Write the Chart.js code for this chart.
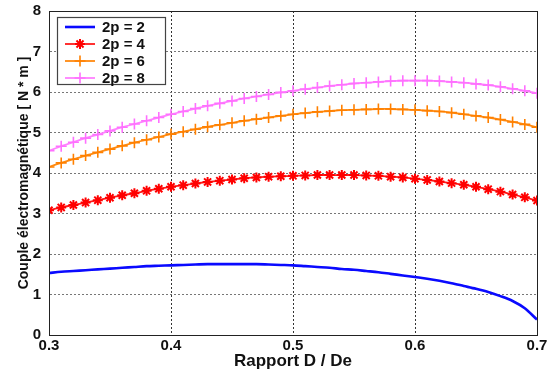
<!DOCTYPE html>
<html>
<head>
<meta charset="utf-8">
<script src="https://cdn.jsdelivr.net/npm/chart.js@4"></script>
<style>
  html, body { margin: 0; padding: 0; background: #fff; }
  #wrap { width: 553px; height: 372px; }
</style>
</head>
<body>
<div id="wrap"><canvas id="torqueChart" width="553" height="372"></canvas></div>
<script>
// D/De ratio, step 0.01
const ratios = [
  0.30, 0.31, 0.32, 0.33, 0.34, 0.35, 0.36, 0.37, 0.38, 0.39,
  0.40, 0.41, 0.42, 0.43, 0.44, 0.45, 0.46, 0.47, 0.48, 0.49,
  0.50, 0.51, 0.52, 0.53, 0.54, 0.55, 0.56, 0.57, 0.58, 0.59,
  0.60, 0.61, 0.62, 0.63, 0.64, 0.65, 0.66, 0.67, 0.68, 0.69, 0.70
];

const torque2p2 = [
  1.53, 1.56, 1.58, 1.60, 1.62, 1.64, 1.66, 1.68, 1.70, 1.71,
  1.72, 1.73, 1.74, 1.75, 1.75, 1.75, 1.75, 1.75, 1.74, 1.73,
  1.72, 1.70, 1.68, 1.66, 1.63, 1.61, 1.58, 1.55, 1.51, 1.47,
  1.43, 1.39, 1.34, 1.28, 1.21, 1.14, 1.06, 0.96, 0.84, 0.66, 0.38
];
const torque2p4 = [
  3.08, 3.15, 3.21, 3.27, 3.33, 3.39, 3.45, 3.50, 3.56, 3.61,
  3.66, 3.70, 3.74, 3.78, 3.81, 3.84, 3.87, 3.89, 3.91, 3.92,
  3.93, 3.94, 3.95, 3.95, 3.95, 3.95, 3.94, 3.93, 3.91, 3.89,
  3.86, 3.83, 3.79, 3.75, 3.71, 3.66, 3.60, 3.54, 3.47, 3.40, 3.32
];
const torque2p6 = [
  4.15, 4.25, 4.34, 4.43, 4.51, 4.59, 4.67, 4.75, 4.82, 4.89,
  4.96, 5.02, 5.08, 5.14, 5.19, 5.24, 5.29, 5.33, 5.37, 5.41,
  5.45, 5.48, 5.51, 5.53, 5.55, 5.56, 5.57, 5.58, 5.58, 5.57,
  5.56, 5.54, 5.52, 5.49, 5.45, 5.41, 5.37, 5.32, 5.26, 5.20, 5.13
];
const torque2p8 = [
  4.55, 4.66, 4.76, 4.86, 4.95, 5.04, 5.13, 5.21, 5.29, 5.37,
  5.45, 5.52, 5.59, 5.66, 5.72, 5.78, 5.84, 5.89, 5.94, 5.99,
  6.03, 6.07, 6.11, 6.15, 6.18, 6.21, 6.23, 6.25, 6.27, 6.28,
  6.28, 6.28, 6.27, 6.25, 6.23, 6.20, 6.17, 6.13, 6.08, 6.03, 5.97
];

const seriesLabels = ['2p = 2', '2p = 4', '2p = 6', '2p = 8'];

const xTicks = [0.3, 0.4, 0.5, 0.6, 0.7];
const yTicks = [0, 1, 2, 3, 4, 5, 6, 7, 8];

const FONT = 'Liberation Sans, Arial, sans-serif';

function toXY(ys) {
  return ratios.map((x, i) => ({ x: x, y: ys[i] }));
}

// box around the plot + legend inside top-left corner
const framePlugin = {
  id: 'frame',
  afterDraw(chart) {
    const ctx = chart.ctx;
    const a = chart.chartArea;
    ctx.save();
    ctx.strokeStyle = '#222';
    ctx.lineWidth = 1;
    ctx.strokeRect(a.left + 0.5, a.top + 0.5, a.right - a.left, a.bottom - a.top);

    // legend
    const bx = a.left + 8, by = a.top + 6, bw = 108, bh = 67;
    ctx.fillStyle = '#fff';
    ctx.fillRect(bx, by, bw, bh);
    ctx.strokeStyle = '#444';
    ctx.lineWidth = 1.2;
    ctx.strokeRect(bx + 0.5, by + 0.5, bw, bh);
    chart.data.datasets.forEach((ds, i) => {
      const cy = by + 10 + i * 17;
      ctx.strokeStyle = ds.borderColor;
      ctx.lineWidth = ds.borderWidth;
      ctx.beginPath();
      ctx.moveTo(bx + 8, cy);
      ctx.lineTo(bx + 38, cy);
      ctx.stroke();
      if (ds.pointRadius > 0) {
        ctx.fillStyle = ds.pointBackgroundColor;
        ctx.strokeStyle = ds.pointBorderColor;
        ctx.lineWidth = ds.pointBorderWidth;
        Chart.helpers.drawPoint(ctx, { pointStyle: ds.pointStyle, radius: ds.pointRadius, borderWidth: ds.pointBorderWidth, rotation: 0 }, bx + 23, cy);
      }
      ctx.fillStyle = '#111';
      ctx.font = 'bold 15px ' + FONT;
      ctx.textBaseline = 'middle';
      ctx.textAlign = 'left';
      ctx.fillText(ds.label, bx + 45, cy + 1);
    });
    ctx.restore();
  }
};

new Chart(document.getElementById('torqueChart'), {
  type: 'line',
  data: {
    datasets: [
      {
        label: seriesLabels[0],
        data: toXY(torque2p2),
        borderColor: '#0a0aff',
        borderWidth: 2.6,
        pointRadius: 0,
        tension: 0.3
      },
      {
        label: seriesLabels[1],
        data: toXY(torque2p4),
        borderColor: '#ff1a1a',
        borderWidth: 1.8,
        pointStyle: 'star',
        pointRadius: 5,
        pointBorderWidth: 2,
        pointBorderColor: '#ff0000',
        pointBackgroundColor: '#ff0000',
        tension: 0.3
      },
      {
        label: seriesLabels[2],
        data: toXY(torque2p6),
        borderColor: '#ff8a10',
        borderWidth: 1.8,
        pointStyle: 'cross',
        pointRadius: 5.5,
        pointBorderWidth: 1.6,
        pointBorderColor: '#ff8000',
        pointBackgroundColor: '#ff8000',
        tension: 0.3
      },
      {
        label: seriesLabels[3],
        data: toXY(torque2p8),
        borderColor: '#ff80ff',
        borderWidth: 1.8,
        pointStyle: 'cross',
        pointRadius: 5.5,
        pointBorderWidth: 1.6,
        pointBorderColor: '#ff70ff',
        pointBackgroundColor: '#ff70ff',
        tension: 0.3
      }
    ]
  },
  options: {
    responsive: false,
    animation: false,
    layout: { padding: { left: 0, top: 11, right: 16, bottom: 0 } },
    plugins: {
      legend: { display: false },
      tooltip: { enabled: false }
    },
    scales: {
      x: {
        type: 'linear',
        min: 0.3,
        max: 0.7,
        afterFit: function(scale) {
          scale.height = 37;
          scale.paddingLeft = 0;
          scale.paddingRight = 0;
        },
        afterBuildTicks: function(scale) { scale.ticks = xTicks.map(v => ({ value: v })); },
        grid: { color: '#333', lineWidth: 1, drawTicks: false },
        border: { display: true, color: '#222', dash: [2, 2] },
        ticks: {
          color: '#111',
          padding: 2,
          maxRotation: 0,
          autoSkip: false,
          font: { family: FONT, size: 15, weight: 'bold' },
          callback: function(v) { return v.toFixed(1); }
        },
        title: {
          display: true,
          text: 'Rapport D / De',
          color: '#111',
          font: { family: FONT, size: 17, weight: 'bold' },
          padding: { top: 0, bottom: 0 }
        }
      },
      y: {
        min: 0,
        max: 8,
        afterFit: function(scale) {
          scale.width = 49;
          scale.paddingTop = 0;
          scale.paddingBottom = 0;
        },
        afterBuildTicks: function(scale) { scale.ticks = yTicks.map(v => ({ value: v })); },
        grid: { color: '#777', lineWidth: 1, drawTicks: false },
        border: { display: true, color: '#222', dash: [2, 2] },
        ticks: {
          color: '#111',
          padding: 8,
          autoSkip: false,
          font: { family: FONT, size: 15, weight: 'bold' }
        },
        title: {
          display: true,
          text: 'Couple électromagnétique [ N * m ]',
          color: '#111',
          font: { family: FONT, size: 14, weight: 'bold' },
          padding: { top: 16, bottom: 0 }
        }
      }
    }
  },
  plugins: [framePlugin]
});
</script>
</body>
</html>
